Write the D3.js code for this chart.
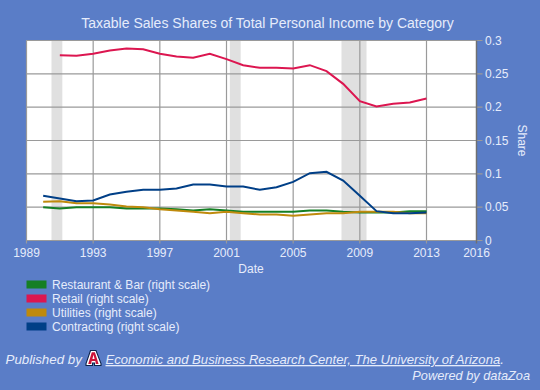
<!DOCTYPE html>
<html><head><meta charset="utf-8">
<script src="https://cdn.jsdelivr.net/npm/d3@7"></script>
<style>html,body{margin:0;padding:0;background:#5a7dc7}svg{display:block}text{font-family:"Liberation Sans",Arial,sans-serif}</style>
</head><body><svg id="c" width="540" height="390"></svg>
<script>
const yearsAll=d3.range(1990,2014);
const restaurant=[.050,.048,.050,.050,.050,.048,.048,.048,.047,.045,.047,.045,.043,.043,.043,.043,.045,.045,.043,.042,.042,.042,.044,.044];
const retail=[null,.278,.277,.280,.285,.288,.287,.280,.276,.274,.280,.272,.263,.259,.259,.258,.263,.254,.235,.209,.201,.205,.207,.213];
const utilities=[.058,.059,.056,.056,.054,.051,.050,.047,.045,.043,.041,.043,.041,.039,.039,.037,.039,.041,.041,.043,.043,.043,.041,.041];
const contracting=[.067,.063,.059,.060,.069,.073,.076,.076,.078,.084,.084,.081,.081,.076,.080,.088,.101,.103,.090,.067,.044,.041,.041,.042];
const seriesNames=["Restaurant & Bar (right scale)","Retail (right scale)","Utilities (right scale)","Contracting (right scale)"];
const seriesColors=["#157f24","#dc1650","#bf8a0c","#003f87"];
const seriesValues=[restaurant,retail,utilities,contracting];
const recessions=[[1990.5,1991.15],[2001.2,2001.85],[2007.9,2009.4]];
const xTicks=[1989,1993,1997,2001,2005,2009,2013,2016];
const yTicks=[0,.05,.1,.15,.2,.25,.3];
const textCol="#e6ecfb",gridCol="#9a9a9a",axisCol="#707070";

const svg=d3.select("#c");
const x=d3.scaleLinear().domain([1989,2016]).range([26.5,476.5]);
const y=d3.scaleLinear().domain([0,.3]).range([240.5,40.5]);

svg.append("text").attr("x",267.5).attr("y",28).attr("text-anchor","middle").attr("font-size",14).attr("fill",textCol).text("Taxable Sales Shares of Total Personal Income by Category");
svg.append("rect").attr("x",x(1989)).attr("y",y(.3)).attr("width",x(2016)-x(1989)).attr("height",y(0)-y(.3)).attr("fill","#fff");
svg.selectAll(".rec").data(recessions).enter().append("rect").attr("x",d=>x(d[0])).attr("width",d=>x(d[1])-x(d[0])).attr("y",y(.3)).attr("height",y(0)-y(.3)).attr("fill","#e0e0e0");

const g=svg.append("g");
g.selectAll(".h").data(yTicks).enter().append("line").attr("x1",x(1989)).attr("x2",x(2016)+6).attr("y1",d=>y(d)).attr("y2",d=>y(d)).attr("stroke",gridCol).attr("stroke-width",1.2);
g.selectAll(".v").data(xTicks.slice(0,-1)).enter().append("line").attr("x1",d=>x(d)).attr("x2",d=>x(d)).attr("y1",y(.3)).attr("y2",y(0)+3).attr("stroke",gridCol).attr("stroke-width",1.2);
g.append("line").attr("x1",x(2016)).attr("x2",x(2016)).attr("y1",y(.3)).attr("y2",y(0)+3).attr("stroke",axisCol).attr("stroke-width",1.5);

const line=d3.line().defined(d=>d[1]!=null).x(d=>x(d[0])).y(d=>y(d[1]));
seriesValues.forEach((v,i)=>{
  svg.append("path").attr("d",line(v.map((d,j)=>[yearsAll[j],d]))).attr("fill","none").attr("stroke",seriesColors[i]).attr("stroke-width",2);
});

svg.selectAll(".xl").data(xTicks).enter().append("text").attr("x",d=>x(d)).attr("y",257).attr("text-anchor","middle").attr("font-size",12).attr("fill",textCol).text(d=>d);
svg.selectAll(".yl").data(yTicks).enter().append("text").attr("x",485).attr("y",d=>y(d)+4).attr("font-size",12).attr("fill",textCol).text(d=>d);
svg.append("text").attr("x",251).attr("y",273).attr("text-anchor","middle").attr("font-size",12).attr("fill",textCol).text("Date");
svg.append("text").attr("transform","translate(517.5,140.5) rotate(90)").attr("text-anchor","middle").attr("font-size",12).attr("fill",textCol).text("Share");

const lg=svg.selectAll(".lg").data(seriesNames).enter().append("g").attr("transform",(d,i)=>`translate(26.5,${280.5+i*14})`);
lg.append("rect").attr("y",0).attr("width",20).attr("height",8).attr("fill",(d,i)=>seriesColors[i]);
lg.append("text").attr("x",25.5).attr("y",8.5).attr("font-size",12).attr("fill",textCol).text(d=>d);

svg.append("text").attr("x",5.5).attr("y",364).attr("font-size",13.35).attr("font-style","italic").attr("fill",textCol).text("Published by");
const logo=svg.append("g").attr("transform","translate(86,350.5)");
logo.append("path").attr("d","M4.5,0H10L15,13V15H8.5V12.5H6.5V15H0V13Z").attr("fill","#fff").attr("stroke","#0c234b").attr("stroke-width",1.1);
logo.append("path").attr("d","M5.8,1.8H8.9L12.6,13.4H9.8L9.3,10.4H5.7L5.2,13.4H2.2ZM6.4,8.4H8.6L7.5,4.2Z").attr("fill","#cc1238").attr("fill-rule","evenodd");
const pub=svg.append("text").attr("x",105.5).attr("y",364).attr("font-size",13.1).attr("font-style","italic").attr("fill",textCol);
pub.append("tspan").attr("text-decoration","underline").text("Economic and Business Research Center, The University of Arizona");
pub.append("tspan").text(".");
svg.append("text").attr("x",530).attr("y",380).attr("text-anchor","end").attr("font-size",12.75).attr("font-style","italic").attr("fill",textCol).text("Powered by dataZoa");
</script></body></html>
